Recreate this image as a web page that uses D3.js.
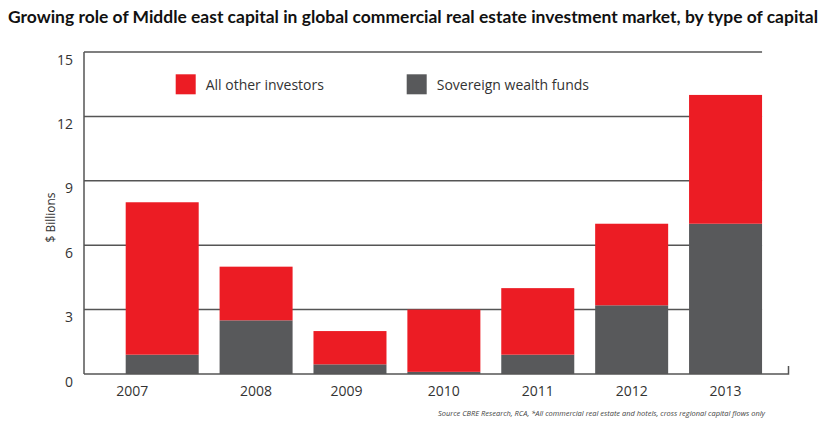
<!DOCTYPE html>
<html><head><meta charset="utf-8">
<script src="https://cdn.jsdelivr.net/npm/d3@7"></script>
<style>body{margin:0;background:#fff;} svg{display:block;}</style>
</head><body>
<svg id="c" width="827" height="428"></svg>
<script>
const years = ["2007","2008","2009","2010","2011","2012","2013"];
const sovereign = [0.9, 2.5, 0.45, 0.1, 0.9, 3.2, 7.0];
const otherInvestors = [7.1, 2.5, 1.55, 2.9, 3.1, 3.8, 6.0];
const yTicks = [0, 3, 6, 9, 12, 15];
const seriesNames = ["All other investors", "Sovereign wealth funds"];
const colors = {"Sovereign wealth funds":"#58595b", "All other investors":"#ec1c24"};

const svg = d3.select("#c");
const font = "'Open Sans', 'Noto Sans', sans-serif";
const x = d3.scaleBand().domain(years).range([115.25, 772.5]).paddingInner(0.2225).paddingOuter(0.11125);
const y = d3.scaleLinear().domain([0, 15]).range([374, 52]);

// title
const title = svg.append("text").attr("x", 8).attr("y", 23)
  .attr("font-family", "Lato, 'Open Sans', sans-serif").attr("font-weight", "bold").attr("font-size", 17.5)
  .attr("fill", "#111")
  .text("Growing role of Middle east capital in global commercial real estate investment market, by type of capital");
title.attr("textLength", 810).attr("lengthAdjust", "spacingAndGlyphs");

// gridlines
svg.append("g").selectAll("line").data(yTicks.filter(d => d > 0)).join("line")
  .attr("x1", 84).attr("x2", x("2013") + x.bandwidth())
  .attr("y1", d => y(d)).attr("y2", d => y(d))
  .attr("stroke", "#555").attr("stroke-width", 1.5);

// y tick labels
svg.append("g").selectAll("text").data(yTicks).join("text")
  .attr("x", 73).attr("y", d => y(d) + 12.5)
  .attr("text-anchor", "end").attr("font-family", font).attr("font-size", 14).attr("fill", "#333")
  .text(d => d);

// y axis title
svg.append("text").attr("transform", "translate(55,217.5) rotate(-90)")
  .attr("text-anchor", "middle").attr("font-family", font).attr("font-size", 12).attr("fill", "#333")
  .text("$ Billions");

// stacked bars
const rows = years.map((yr, i) => ({year: yr, "Sovereign wealth funds": sovereign[i], "All other investors": otherInvestors[i]}));
const stack = d3.stack().keys(["Sovereign wealth funds", "All other investors"])(rows);
svg.append("g").selectAll("g").data(stack).join("g")
  .attr("fill", d => colors[d.key])
  .selectAll("rect").data(d => d).join("rect")
  .attr("x", d => x(d.data.year)).attr("width", x.bandwidth())
  .attr("y", d => y(d[1])).attr("height", d => y(d[0]) - y(d[1]));

// axes lines
svg.append("line").attr("x1", 84).attr("x2", 84).attr("y1", y(15)).attr("y2", y(0))
  .attr("stroke", "#555").attr("stroke-width", 1.5);
svg.append("path").attr("d", `M84,${y(0)}H788.5V${y(0) - 8}`)
  .attr("fill", "none").attr("stroke", "#555").attr("stroke-width", 1.5);

// x labels
const xAxis = svg.append("g").attr("transform", `translate(0,${y(0)})`)
  .call(d3.axisBottom(x).tickSize(0).tickPadding(0));
xAxis.select(".domain").remove();
xAxis.selectAll("text").attr("font-family", font).attr("font-size", 14).attr("fill", "#333")
  .attr("y", 22).attr("dy", 0)
  .attr("dx", d => d === "2007" ? -30 : (d === "2009" ? -3.5 : 0));

// legend
const legPos = [175.7, 406.7];
const leg = svg.append("g").selectAll("g").data(seriesNames).join("g")
  .attr("transform", (d, i) => `translate(${legPos[i]},74.3)`);
leg.append("rect").attr("width", 20).attr("height", 20).attr("fill", d => colors[d]);
leg.append("text").attr("x", 30).attr("y", 15.5)
  .attr("font-family", font).attr("font-size", 14).attr("fill", "#333").text(d => d);

// source
svg.append("text").attr("x", 438).attr("y", 416)
  .attr("font-family", font).attr("font-style", "italic").attr("font-size", 8).attr("fill", "#444")
  .attr("textLength", 327).attr("lengthAdjust", "spacingAndGlyphs")
  .text("Source CBRE Research, RCA, *All commercial real estate and hotels, cross regional capital flows only");
</script>
</body></html>
